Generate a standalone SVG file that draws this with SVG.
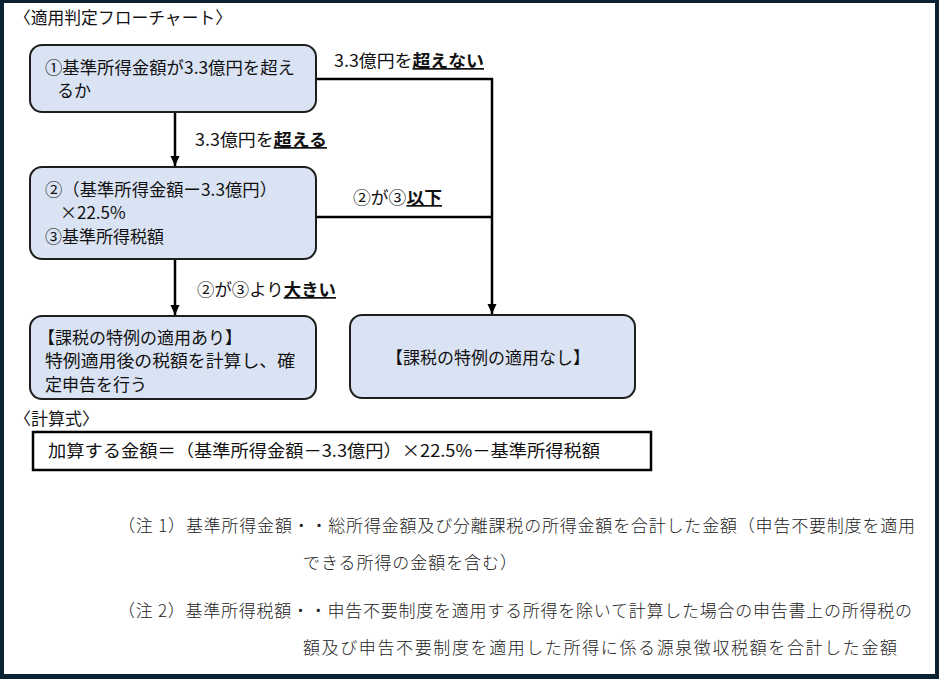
<svg xmlns="http://www.w3.org/2000/svg" width="939" height="679" viewBox="0 0 939 679">
<defs>
<style>
.t{font-family:"Noto Sans CJK JP","Noto Sans",sans-serif;font-size:17px;fill:#111}
.n{font-family:"Noto Sans CJK JP","Noto Sans",sans-serif;font-size:17px;fill:#222;font-weight:300}
.box{fill:#dae3f3;stroke:#1e1e1e;stroke-width:2}
.ln{fill:none;stroke:#000;stroke-width:2.5}
.u{font-weight:bold;text-decoration:underline}
</style>
<marker id="ah" markerUnits="userSpaceOnUse" markerWidth="10" markerHeight="10" refX="10" refY="5" orient="auto">
<path d="M0,0.5 L10,5 L0,9.5 z" fill="#000"/>
</marker>
</defs>
<rect x="0" y="0" width="939" height="679" fill="#0b2233"/>
<rect x="4" y="3" width="931" height="671" fill="#fff"/>
<text class="t" x="14" y="24" textLength="218" lengthAdjust="spacingAndGlyphs">〈適用判定フローチャート〉</text>
<g id="connectors">
<line class="ln" x1="175" y1="112" x2="175" y2="166" marker-end="url(#ah)"/>
<line class="ln" x1="175" y1="259" x2="175" y2="315" marker-end="url(#ah)"/>
<polyline class="ln" points="316,79 492,79 492,314" marker-end="url(#ah)"/>
<line class="ln" x1="316" y1="217" x2="492" y2="217"/>
<text class="t" x="334" y="67" textLength="150" lengthAdjust="spacingAndGlyphs">3.3億円を<tspan class="u">超えない</tspan></text>
<text class="t" x="195" y="146" textLength="132" lengthAdjust="spacingAndGlyphs">3.3億円を<tspan class="u">超える</tspan></text>
<text class="t" x="353" y="204" textLength="89" lengthAdjust="spacingAndGlyphs">②が③<tspan class="u">以下</tspan></text>
<text class="t" x="197" y="296" textLength="139" lengthAdjust="spacingAndGlyphs">②が③より<tspan class="u">大きい</tspan></text>
</g>
<g id="node1">
<rect class="box" x="30" y="45" width="286" height="67" rx="12"/>
<text class="t" x="45" y="74" textLength="250" lengthAdjust="spacingAndGlyphs">①基準所得金額が3.3億円を超え</text>
<text class="t" x="57" y="97">るか</text>
</g>
<g id="node2">
<rect class="box" x="30" y="167" width="286" height="92" rx="12"/>
<text class="t" x="45" y="196" textLength="232" lengthAdjust="spacingAndGlyphs">②（基準所得金額ー3.3億円）</text>
<text class="t" x="60" y="219">×22.5%</text>
<text class="t" x="45" y="243">③基準所得税額</text>
</g>
<g id="node3">
<rect class="box" x="30" y="316" width="286" height="83" rx="12"/>
<text class="t" x="38" y="344">【課税の特例の適用あり】</text>
<text class="t" x="45" y="367" textLength="250" lengthAdjust="spacingAndGlyphs">特例適用後の税額を計算し、確</text>
<text class="t" x="45" y="391">定申告を行う</text>
</g>
<g id="node4">
<rect class="box" x="350" y="315" width="285" height="83" rx="12"/>
<text class="t" x="488" y="364" text-anchor="middle">【課税の特例の適用なし】</text>
</g>
<text class="t" x="14" y="425">〈計算式〉</text>
<g id="formula">
<rect x="33" y="432" width="618" height="38" fill="#fff" stroke="#000" stroke-width="2.5"/>
<text class="t" x="48" y="457" textLength="552" lengthAdjust="spacingAndGlyphs">加算する金額＝（基準所得金額－3.3億円）×22.5%－基準所得税額</text>
</g>
<g id="notes">
<text class="n" x="118" y="532" textLength="797" lengthAdjust="spacing">（注 1）基準所得金額・・総所得金額及び分離課税の所得金額を合計した金額（申告不要制度を適用</text>
<text class="n" x="303" y="569" textLength="214" lengthAdjust="spacing">できる所得の金額を含む）</text>
<text class="n" x="118" y="617" textLength="794" lengthAdjust="spacing">（注 2）基準所得税額・・申告不要制度を適用する所得を除いて計算した場合の申告書上の所得税の</text>
<text class="n" x="303" y="654" textLength="594" lengthAdjust="spacing">額及び申告不要制度を適用した所得に係る源泉徴収税額を合計した金額</text>
</g>
</svg>
